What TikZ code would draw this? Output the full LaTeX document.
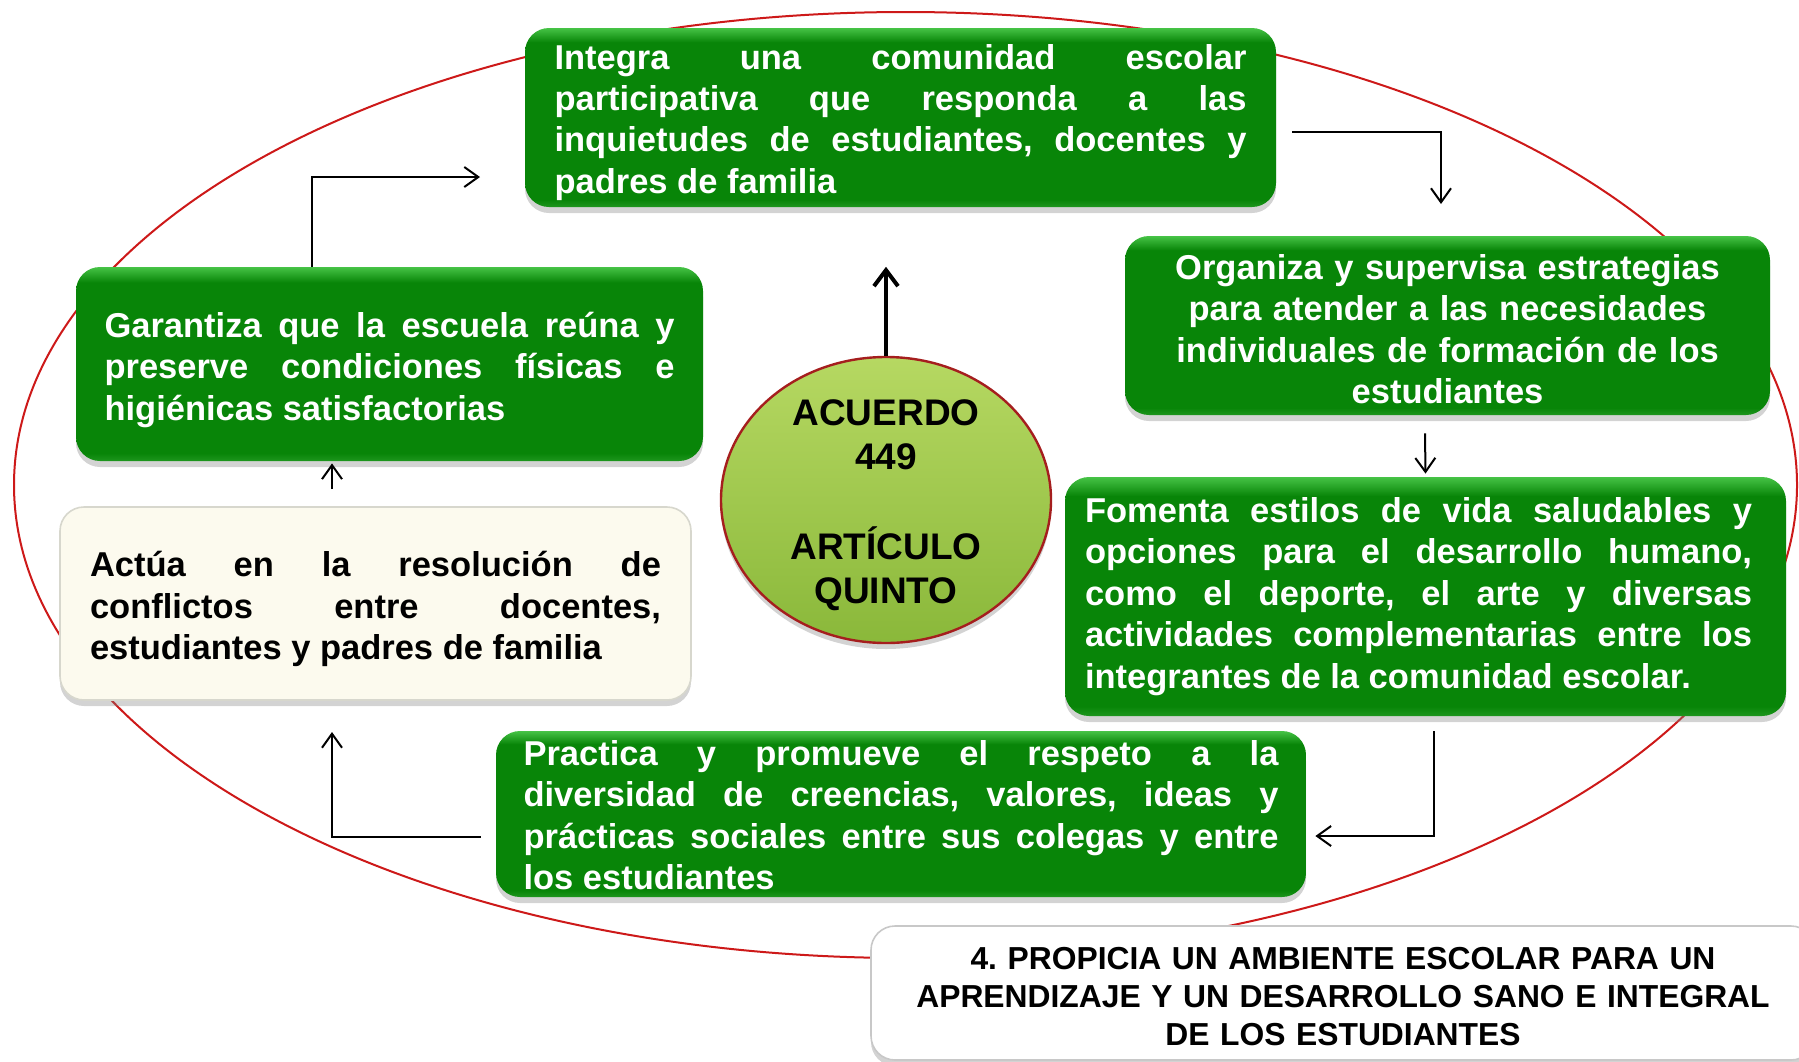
\documentclass[tikz,border=0pt]{standalone}
\usepackage{fontspec}
\setmainfont{Liberation Sans}
\usetikzlibrary{shadows,arrows.meta,calc,shapes.geometric}
\definecolor{gmain}{RGB}{8,133,8}
\definecolor{gtop}{RGB}{70,195,70}
\definecolor{gbot}{RGB}{30,150,30}
\definecolor{cream}{RGB}{252,250,238}
\definecolor{creamborder}{RGB}{215,215,205}
\definecolor{ored}{RGB}{205,25,25}
\definecolor{cborder}{RGB}{165,30,30}
\definecolor{ctop}{RGB}{182,216,98}
\definecolor{cbot}{RGB}{138,184,58}
\definecolor{tborder}{RGB}{200,200,200}
\pgfdeclareverticalshading{gshade}{100bp}{color(0bp)=(gbot); color(25bp)=(gbot); color(27bp)=(gmain); color(71bp)=(gmain); color(75bp)=(gtop); color(100bp)=(gtop)}
\tolerance=10000
\hbadness=10000
\hyphenpenalty=10000
\frenchspacing
\begin{document}
\begin{tikzpicture}[x=0.5pt,y=-0.5pt,
  boxtext/.style={font=\bfseries\fontsize{17.25}{20.7}\selectfont, align=justify, inner sep=0pt},
  shadowed/.style={drop shadow={shadow xshift=0pt, shadow yshift=-3pt, opacity=0.35}},
  firstline/.style={execute at begin node={\rule{0pt}{#1}}},
  gbox/.style={boxtext, rounded corners=12pt, shade, shading=gshade, text=white, shadowed},
  cbox/.style={boxtext, rounded corners=12pt, fill=cream, draw=creamborder, line width=0.8pt, text=black, shadowed},
  tbox/.style={rounded corners=12pt, fill=white, draw=tborder, line width=0.8pt, text=black, shadowed,
     font=\bfseries\fontsize{15.9}{19}\selectfont, align=center, inner sep=0pt},
  circ/.style={ellipse, top color=ctop, bottom color=cbot, draw=cborder, line width=1.2pt, shadowed,
     font=\bfseries\fontsize{18.5}{22.35}\selectfont, align=center, inner xsep=0pt, inner ysep=-20pt},
  arr/.style={-{Straight Barb[length=7pt,width=10pt]}, line width=1pt, black},
  arrthick/.style={-{Straight Barb[length=8pt,width=12pt]}, line width=2pt, black}
]
\useasboundingbox (0,0) rectangle (1799,1061);
\clip (0,0) rectangle (1799,1061);

% outer ellipse
\draw[ored, line width=1pt] (905.5,485) ellipse [x radius=891.5, y radius=473];

% boxes
\node[gbox, firstline=17.2pt, minimum width=375.5pt, minimum height=89.5pt, text width=346pt] (t1) at (900.5,117.5)
  {Integra una comunidad escolar\linebreak participativa que responda a las\linebreak inquietudes de estudiantes, docentes y\linebreak padres de familia};
\node[gbox, firstline=16.1pt, minimum width=322.5pt, minimum height=89.5pt, text width=300pt, align=center] (t2) at (1447.5,325.5)
  {Organiza y supervisa estrategias\\ para atender a las necesidades\\ individuales de formación de los\\ estudiantes};
\node[gbox, execute at begin node={\rightskip=7pt\relax}, minimum width=360.5pt, minimum height=119.5pt, text width=340.5pt] (t3) at (1425.5,596.5)
  {Fomenta estilos de vida saludables y\linebreak opciones para el desarrollo humano,\linebreak como el deporte, el arte y diversas\linebreak actividades complementarias entre los\linebreak integrantes de la comunidad escolar.};
\node[gbox, firstline=13.8pt, minimum width=405pt, minimum height=83pt, text width=377.5pt] (t4) at (901,814)
  {Practica y promueve el respeto a la\linebreak diversidad de creencias, valores, ideas y\linebreak prácticas sociales entre sus colegas y entre\linebreak los estudiantes};
\node[cbox, firstline=18.3pt, minimum width=315.5pt, minimum height=96.5pt, text width=285.5pt] (t5) at (375.5,603.5)
  {Actúa en la resolución de\linebreak conflictos entre docentes,\linebreak estudiantes y padres de familia};
\node[gbox, firstline=18.3pt, minimum width=313.5pt, minimum height=97pt, text width=285pt] (t6) at (389.5,364)
  {Garantiza que la escuela reúna y\linebreak preserve condiciones físicas e\linebreak higiénicas satisfactorias};

\node[circ, minimum width=165pt, minimum height=143pt] (c) at (886,500)
  {\rule{0pt}{18.1pt}ACUERDO\\449\\[22.35pt]ARTÍCULO\\QUINTO};

\node[tbox, firstline=15.1pt, text width=460pt, minimum width=472pt, minimum height=67pt] (tt) at (1343,993)
  {4. PROPICIA UN AMBIENTE ESCOLAR PARA UN\\ APRENDIZAJE Y UN DESARROLLO SANO E INTEGRAL\\ DE LOS ESTUDIANTES};

% connectors
\coordinate (e1) at (480,177);
\draw[arr] ($(t6.north)+(-77.5,0)$) |- (e1);
\coordinate (s2) at (1292,132);
\coordinate (e2) at (1441,204);
\draw[arr] (s2) -| (e2);
\draw[arr] ($(t2.south)+(-22.5,18)$) -- ($(t3.north)+(0,-3)$);
\coordinate (s4) at (1434,731);
\draw[arr] (s4) |- ($(t4.east)+(9,22)$);
\coordinate (e5) at (332,732);
\draw[arr] ($(t4.west)+(-15,23)$) -| (e5);
\draw[arr] ($(t5.north)+(-43.5,-17)$) -- ($(t6.south)+(-57.5,2)$);
\draw[arrthick] (c.north) -- ++(0,-89);
\end{tikzpicture}
\end{document}
